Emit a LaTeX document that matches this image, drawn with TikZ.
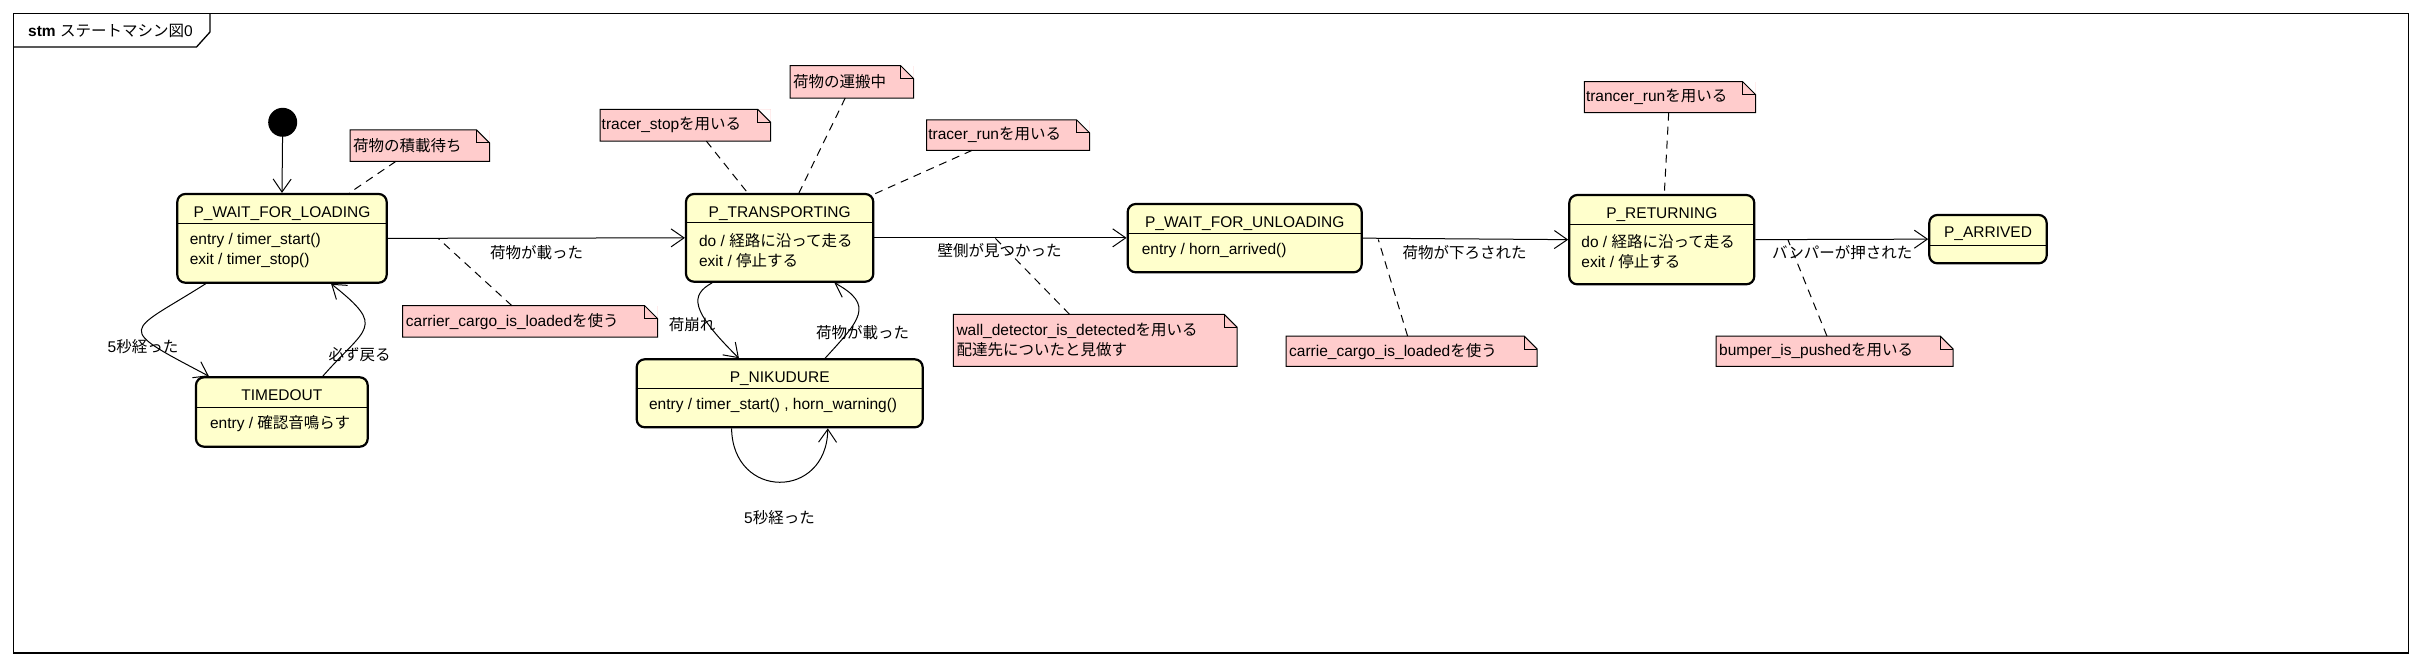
\documentclass[tikz,border=0pt]{standalone}
\usepackage{fontspec}
\setmainfont{Liberation Sans}
\newfontfamily\jp{Noto Sans CJK JP}
\usetikzlibrary{arrows.meta}
\definecolor{stfill}{RGB}{255,255,204}
\definecolor{ntfill}{RGB}{255,204,204}
\newcommand\fs{\fontsize{15.5}{19.8}\selectfont}
\newcommand\notecorner[1]{%
 \fill[white] ([xshift=-13pt]#1.north east) -- (#1.north east) -- ([yshift=-13pt]#1.north east) -- cycle;
 \draw[nline] (#1.north west) -- ([xshift=-13pt]#1.north east) -- ([yshift=-13pt]#1.north east) -- (#1.south east) -- (#1.south west) -- cycle;
 \draw[nline] ([xshift=-13pt]#1.north east) |- ([yshift=-13pt]#1.north east);}
\tikzset{
 state/.style={draw, line width=2.2pt, rounded corners=8pt, fill=stfill, inner sep=0pt},
 ttl/.style={font=\fs, inner sep=0pt, text height=11.1pt, text depth=0pt},
 body/.style={font=\fs, align=left, inner sep=0pt, anchor=west},
 div/.style={line width=1pt},
 tr/.style={line width=1pt, -{Straight Barb[length=13pt,width=18pt,line width=1pt]}},
 nt/.style={fill=ntfill, inner xsep=3pt, inner ysep=0pt, font=\fs, align=left, anchor=north west},
 nline/.style={line width=1pt},
 nl/.style={line width=1pt, dash pattern=on 8pt off 6pt},
 lbl/.style={font=\fs, inner sep=0pt},
}
\begin{document}
\begin{tikzpicture}[x=1pt,y=-1pt]
\useasboundingbox (0,0) rectangle (2421,666);
% frame
\draw[line width=1.3pt] (13.3,13.3) rectangle (2408.3,653);
\coordinate (hd) at (13.3,47);
\draw[line width=1.3pt] (hd) -- (196.5,47) -- (210,32) -- (210,13.3);
\node[font=\fs, anchor=west, inner sep=0pt] (hdr) at (28,31) {{\bfseries stm} {\jp ステートマシン図}0};

% notes
\node[nt, text width=133.3pt, minimum height=31pt] (n1) at (350,130) {\jp 荷物の積載待ち};
\notecorner{n1}
\node[nt, text width=248.6pt, minimum height=31pt] (n2) at (402.7,305.7) {carrier\_cargo\_is\_loaded{\jp を使う}};
\notecorner{n2}
\node[nt, text width=167.3pt, minimum height=31.4pt, inner xsep=1.5pt] (n3) at (600,109.3) {tracer\_stop{\jp を用いる}};
\notecorner{n3}
\node[nt, text width=117.3pt, minimum height=32pt] (n4) at (790,65.7) {\jp 荷物の運搬中};
\notecorner{n4}
\node[nt, text width=159.6pt, minimum height=30pt, inner xsep=1.5pt] (n5) at (926.7,120) {tracer\_run{\jp を用いる}};
\notecorner{n5}
\node[nt, text width=277.4pt, minimum height=51.7pt] (n6) at (953.3,314.3) {wall\_detector\_is\_detected{\jp を用いる}\\{\jp 配達先についたと見做す}};
\notecorner{n6}
\node[nt, text width=244.7pt, minimum height=30pt] (n7) at (1286,336) {carrie\_cargo\_is\_loaded{\jp を使う}};
\notecorner{n7}
\node[nt, text width=168pt, minimum height=30.6pt, inner xsep=1.5pt] (n8) at (1584.3,81.7) {trancer\_run{\jp を用いる}};
\notecorner{n8}
\node[nt, text width=230.7pt, minimum height=30pt] (n9) at (1716,336) {bumper\_is\_pushed{\jp を用いる}};
\notecorner{n9}

% initial
\node[circle, fill=black, minimum size=29pt, inner sep=0pt] (init) at (282.7,122.3) {};

% states
\node[state, minimum width=209.4pt, minimum height=88.7pt] (wfl) at (282,238.35) {};
\node[ttl] (wflT) at ([yshift=-19.3pt]wfl.north) {P\_WAIT\_FOR\_LOADING};
\draw[div] ([yshift=-31pt]wfl.north west) -- ([yshift=-31pt]wfl.north east);
\node[body] (wflB) at ([xshift=13.4pt,yshift=-57.7pt]wfl.north west) {entry / timer\_start()\\exit / timer\_stop()};

\node[state, minimum width=171.7pt, minimum height=69.4pt] (tmo) at (281.85,412) {};
\node[ttl] (tmoT) at ([yshift=-18.4pt]tmo.north) {TIMEDOUT};
\draw[div] ([yshift=-31pt]tmo.north west) -- ([yshift=-31pt]tmo.north east);
\node[body] (tmoB) at ([xshift=15pt,yshift=-47pt]tmo.north west) {entry / {\jp 確認音鳴らす}};

\node[state, minimum width=187.3pt, minimum height=87.7pt] (trans) at (779.65,237.85) {};
\node[ttl] (transT) at ([yshift=-19.3pt]trans.north) {P\_TRANSPORTING};
\draw[div] ([yshift=-30pt]trans.north west) -- ([yshift=-30pt]trans.north east);
\node[body] (transB) at ([xshift=14pt,yshift=-58pt]trans.north west) {do / {\jp 経路に沿って走る}\\exit / {\jp 停止する}};

\node[state, minimum width=286pt, minimum height=68pt] (niku) at (779.7,393.3) {};
\node[ttl] (nikuT) at ([yshift=-18.4pt]niku.north) {P\_NIKUDURE};
\draw[div] ([yshift=-30.7pt]niku.north west) -- ([yshift=-30.7pt]niku.north east);
\node[body] (nikuB) at ([xshift=13.3pt,yshift=-47.4pt]niku.north west) {entry / timer\_start() , horn\_warning()};

\node[state, minimum width=234pt, minimum height=68.3pt] (wfu) at (1244.7,238.15) {};
\node[ttl] (wfuT) at ([yshift=-18.7pt]wfu.north) {P\_WAIT\_FOR\_UNLOADING};
\draw[div] ([yshift=-31pt]wfu.north west) -- ([yshift=-31pt]wfu.north east);
\node[body] (wfuB) at ([xshift=15pt,yshift=-47.7pt]wfu.north west) {entry / horn\_arrived()};

\node[state, minimum width=185pt, minimum height=89.3pt] (ret) at (1661.8,239.65) {};
\node[ttl] (retT) at ([yshift=-19pt]ret.north) {P\_RETURNING};
\draw[div] ([yshift=-30.7pt]ret.north west) -- ([yshift=-30.7pt]ret.north east);
\node[body] (retB) at ([xshift=13pt,yshift=-57.5pt]ret.north west) {do / {\jp 経路に沿って走る}\\exit / {\jp 停止する}};

\node[state, minimum width=117.4pt, minimum height=48.3pt] (arr) at (1988,239.15) {};
\node[ttl] (arrT) at ([yshift=-18.3pt]arr.north) {P\_ARRIVED};
\draw[div] ([yshift=-31.7pt]arr.north west) -- ([yshift=-31.7pt]arr.north east);

% transitions
\draw[tr] (init) -- (wfl.north);
\draw[tr] (wfl.east) -- (trans.west);
\draw[tr] (trans.east) -- (trans.east -| wfu.west);
\draw[tr] (wfu.east) -- (ret.west);
\draw[tr] (ret.east) -- (arr.west);
\draw[tr] ([xshift=29.4pt]wfl.south west) .. controls (125.9,334.3) and (113.4,325.8) .. ([xshift=14pt]tmo.north west);
\draw[tr] ([xshift=-46pt]tmo.north east) .. controls (366.1,326.6) and (387.1,328.1) .. ([xshift=-56.7pt]wfl.south east);
\draw[tr] ([xshift=27.3pt]trans.south west) .. controls (690,295) and (690,310) .. ([xshift=103.3pt]niku.north west);
\draw[tr] ([xshift=-98.7pt]niku.north east) .. controls (860,320) and (875,305) .. ([xshift=-40pt]trans.south east);
\draw[tr] ([xshift=96pt]niku.south west) .. controls (732.7,500) and (826.7,500) .. ([xshift=-96pt]niku.south east);

% transition labels
\node[lbl] (l1) at (536.5,252.7) {\jp 荷物が載った};
\node[lbl] (l2) at (143,347) {5{\jp 秒経った}};
\node[lbl] (l3) at (359.5,355) {\jp 必ず戻る};
\node[lbl] (l4) at (692.2,324.3) {\jp 荷崩れ};
\node[lbl] (l5) at (862.7,332.7) {\jp 荷物が載った};
\node[lbl] (l6) at (779.5,517.3) {5{\jp 秒経った}};
\node[lbl] (l7) at (999.7,251) {\jp 壁側が見つかった};
\node[lbl] (l8) at (1464.7,252.7) {\jp 荷物が下ろされた};
\node[lbl] (l9) at (1842.2,252.7) {\jp バンパーが押された};

% note anchors
\coordinate (c2) at (438.3,238.5);
\coordinate (c6) at (995,238);
\coordinate (c7) at (1378.3,239.5);
\coordinate (c9) at (1788,240);
\draw[nl] ([xshift=-24pt]n1.south) -- ([xshift=-38.4pt]wfl.north east);
\draw[nl] ([xshift=-18.3pt]n2.north) -- (c2);
\draw[nl] ([xshift=21pt]n3.south) -- ([xshift=-32pt]trans.north);
\draw[nl] ([xshift=-6.65pt]n4.south) -- ([xshift=19.3pt]trans.north);
\draw[nl] ([xshift=-36.2pt]n5.south) -- ([xshift=-2pt,yshift=-2pt]trans.north east);
\draw[nl] ([xshift=-25.7pt]n6.north) -- (c6);
\draw[nl] ([xshift=-4pt]n7.north) -- (c7);
\draw[nl] ([xshift=-1.3pt]n8.south) -- ([xshift=2.5pt]ret.north);
\draw[nl] ([xshift=-7.65pt]n9.north) -- (c9);
\end{tikzpicture}
\end{document}
